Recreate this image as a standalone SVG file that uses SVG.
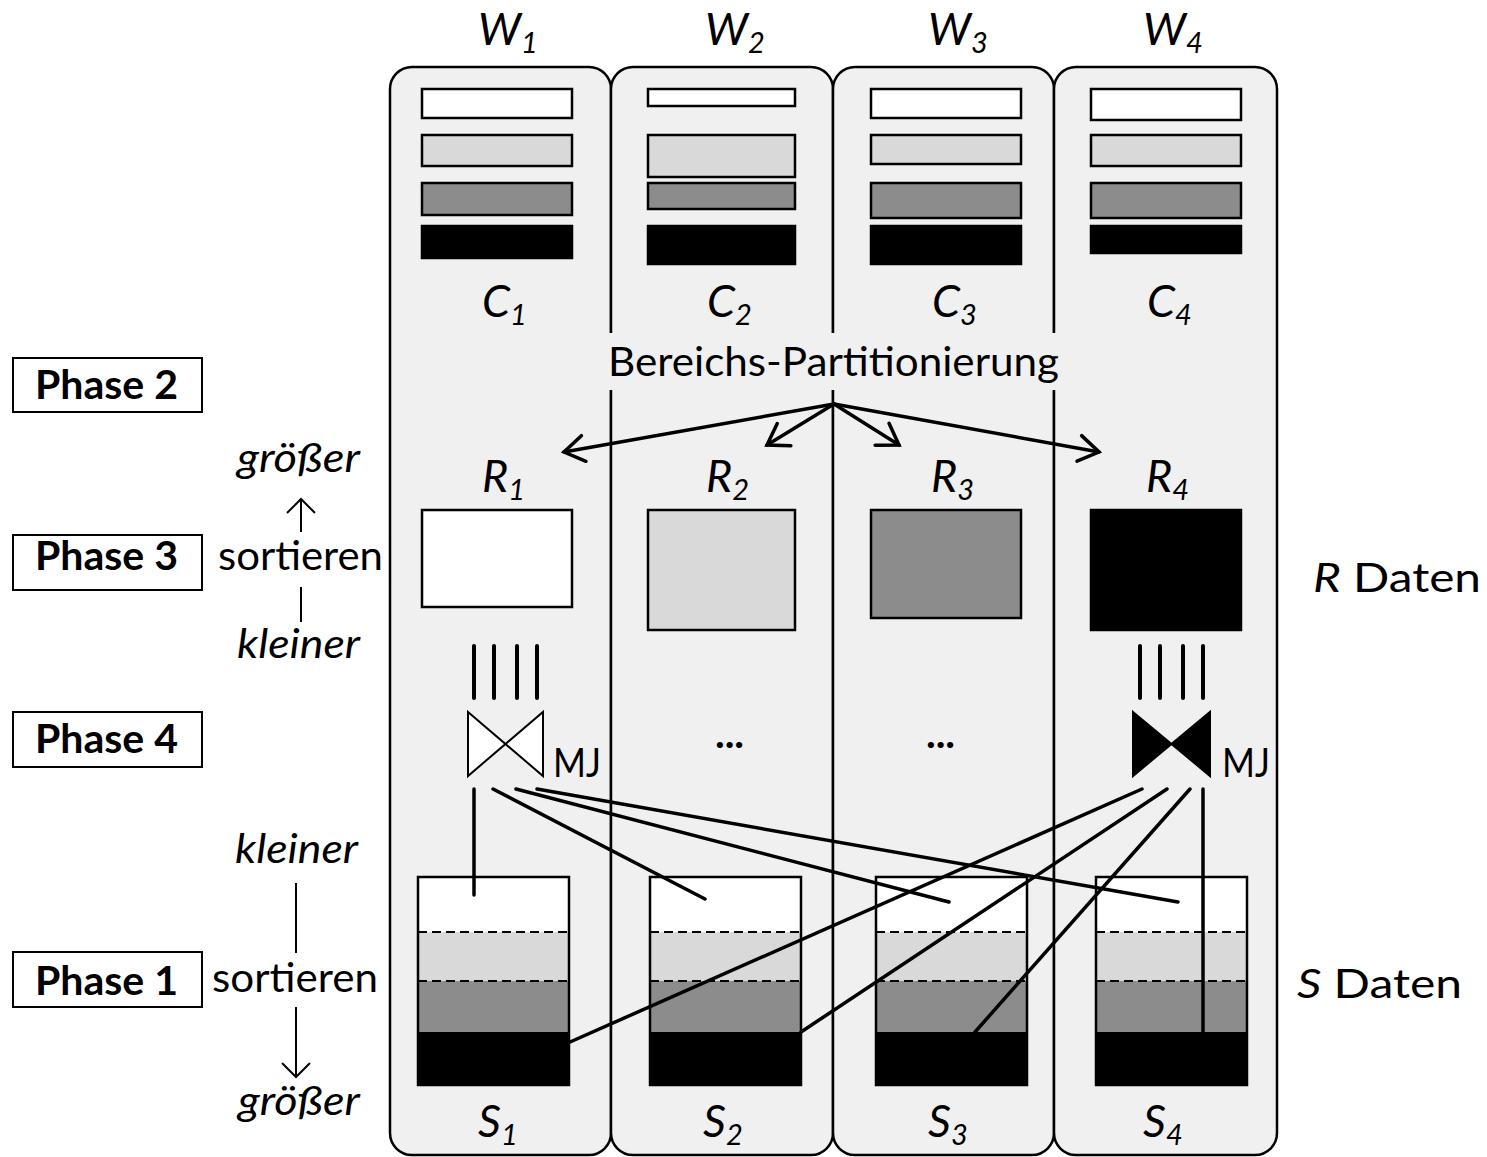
<svg xmlns="http://www.w3.org/2000/svg" width="1487" height="1157" viewBox="0 0 1487 1157">
<defs>
<style>
text{font-family:Lato,'Liberation Sans',sans-serif;fill:#000}
.lbl{font-size:45px;font-style:italic}
.sub{font-size:29px;font-style:italic}
.t{font-size:41px}
.i{font-style:italic}
.b{font-weight:bold}
.panel{fill:#f0f0f0;stroke:#000;stroke-width:2.5}
.bar{stroke:#000;stroke-width:2.5}
.w{fill:#fff}.l{fill:#d9d9d9}.g{fill:#8c8c8c}.k{fill:#000}
.conn{stroke:#000;stroke-width:3.5;fill:none;stroke-linecap:round}
.thin{stroke:#000;stroke-width:2;fill:none}
.dash{stroke:#000;stroke-width:2;stroke-dasharray:9 5}
.pbox{fill:#fff;stroke:#000;stroke-width:2}
.tick{stroke:#000;stroke-width:4;stroke-linecap:round}
</style>
<marker id="chev" markerUnits="userSpaceOnUse" viewBox="-24 -16 28 32" markerWidth="28" markerHeight="32" refX="0" refY="0" orient="auto" overflow="visible">
<path d="M-20,-13 L0,0 L-20,13" fill="none" stroke="#000" stroke-width="3.5" stroke-linecap="round"/>
</marker>
<g id="sbox">
<rect class="w" x="0" y="0" width="151" height="55"/>
<rect class="l" x="0" y="55" width="151" height="49"/>
<rect class="g" x="0" y="104" width="151" height="51"/>
<rect class="k" x="0" y="155" width="151" height="53"/>
<line class="dash" x1="0" y1="55" x2="151" y2="55"/>
<line class="dash" x1="0" y1="104" x2="151" y2="104"/>
<rect x="0" y="0" width="151" height="208" fill="none" stroke="#000" stroke-width="2.5"/>
</g>
</defs>
<rect x="0" y="0" width="1487" height="1157" fill="#fff"/>

<g id="panels">
<g id="W1"><rect class="panel" x="390" y="67" width="221" height="1088" rx="22"/><text class="lbl" x="478" y="45">W<tspan class="sub" dy="8">1</tspan></text></g>
<g id="W2"><rect class="panel" x="611" y="67" width="222" height="1088" rx="22"/><text class="lbl" x="705" y="45">W<tspan class="sub" dy="8">2</tspan></text></g>
<g id="W3"><rect class="panel" x="833" y="67" width="221" height="1088" rx="22"/><text class="lbl" x="928" y="45">W<tspan class="sub" dy="8">3</tspan></text></g>
<g id="W4"><rect class="panel" x="1054" y="67" width="223" height="1088" rx="22"/><text class="lbl" x="1143" y="45">W<tspan class="sub" dy="8">4</tspan></text></g>
</g>

<g id="C1">
<rect class="bar w" x="422" y="89" width="150" height="29"/>
<rect class="bar l" x="422" y="135" width="150" height="31"/>
<rect class="bar g" x="422" y="183" width="150" height="32"/>
<rect class="bar k" x="422" y="226" width="150" height="32"/>
<text class="lbl" x="482" y="317">C<tspan class="sub" dy="8">1</tspan></text>
</g>
<g id="C2">
<rect class="bar w" x="648" y="89" width="147" height="17"/>
<rect class="bar l" x="648" y="135" width="147" height="42"/>
<rect class="bar g" x="648" y="183" width="147" height="26"/>
<rect class="bar k" x="648" y="226" width="147" height="38"/>
<text class="lbl" x="707" y="317">C<tspan class="sub" dy="8">2</tspan></text>
</g>
<g id="C3">
<rect class="bar w" x="871" y="89" width="150" height="29"/>
<rect class="bar l" x="871" y="135" width="150" height="29"/>
<rect class="bar g" x="871" y="183" width="150" height="35"/>
<rect class="bar k" x="871" y="226" width="150" height="38"/>
<text class="lbl" x="932" y="317">C<tspan class="sub" dy="8">3</tspan></text>
</g>
<g id="C4">
<rect class="bar w" x="1091" y="89" width="150" height="31"/>
<rect class="bar l" x="1091" y="135" width="150" height="31"/>
<rect class="bar g" x="1091" y="183" width="150" height="35"/>
<rect class="bar k" x="1091" y="226" width="150" height="27"/>
<text class="lbl" x="1147" y="317">C<tspan class="sub" dy="8">4</tspan></text>
</g>

<g id="partition">
<rect x="598" y="333" width="472" height="57" fill="#f0f0f0"/>
<text class="t" x="608" y="376" textLength="451" lengthAdjust="spacingAndGlyphs">Bereichs-Partitionierung</text>
</g>

<g id="R1"><text class="lbl" x="482" y="492">R<tspan class="sub" dy="8">1</tspan></text><rect class="bar w" x="422" y="510" width="150" height="97"/></g>
<g id="R2"><text class="lbl" x="706" y="492">R<tspan class="sub" dy="8">2</tspan></text><rect class="bar l" x="648" y="510" width="147" height="120"/></g>
<g id="R3"><text class="lbl" x="931" y="492">R<tspan class="sub" dy="8">3</tspan></text><rect class="bar g" x="871" y="510" width="150" height="108"/></g>
<g id="R4"><text class="lbl" x="1146" y="492">R<tspan class="sub" dy="8">4</tspan></text><rect class="bar k" x="1091" y="510" width="150" height="120"/></g>

<g id="MJ1">
<line class="tick" x1="474" y1="646" x2="474" y2="698"/>
<line class="tick" x1="494" y1="646" x2="494" y2="698"/>
<line class="tick" x1="517" y1="646" x2="517" y2="698"/>
<line class="tick" x1="537" y1="646" x2="537" y2="698"/>
<polygon points="468,712 543,776 543,712 468,776" fill="#fff" stroke="#000" stroke-width="2"/>
<text class="t" x="553" y="777" textLength="48" lengthAdjust="spacingAndGlyphs">MJ</text>
</g>
<g id="MJ4">
<line class="tick" x1="1140" y1="646" x2="1140" y2="698"/>
<line class="tick" x1="1160" y1="646" x2="1160" y2="698"/>
<line class="tick" x1="1183" y1="646" x2="1183" y2="698"/>
<line class="tick" x1="1203" y1="646" x2="1203" y2="698"/>
<polygon points="1133,712 1210,776 1210,712 1133,776" fill="#000" stroke="#000" stroke-width="2"/>
<text class="t" x="1222" y="777" textLength="48" lengthAdjust="spacingAndGlyphs">MJ</text>
</g>
<g id="dots2"><text class="t b" x="729.5" y="748" text-anchor="middle">...</text></g>
<g id="dots3"><text class="t b" x="940.5" y="748" text-anchor="middle">...</text></g>

<g id="S1"><use href="#sbox" x="418" y="877"/><text class="lbl" x="478" y="1137">S<tspan class="sub" dy="8">1</tspan></text></g>
<g id="S2"><use href="#sbox" x="650" y="877"/><text class="lbl" x="703" y="1137">S<tspan class="sub" dy="8">2</tspan></text></g>
<g id="S3"><use href="#sbox" x="876" y="877"/><text class="lbl" x="928" y="1137">S<tspan class="sub" dy="8">3</tspan></text></g>
<g id="S4"><use href="#sbox" x="1096" y="877"/><text class="lbl" x="1143" y="1137">S<tspan class="sub" dy="8">4</tspan></text></g>

<g id="connectors">
<line class="conn" x1="834" y1="404" x2="564" y2="452" marker-end="url(#chev)"/>
<line class="conn" x1="834" y1="404" x2="767" y2="445" marker-end="url(#chev)"/>
<line class="conn" x1="834" y1="404" x2="899" y2="445" marker-end="url(#chev)"/>
<line class="conn" x1="834" y1="404" x2="1099" y2="452" marker-end="url(#chev)"/>
<line class="conn" x1="474" y1="789" x2="474" y2="895"/>
<line class="conn" x1="493" y1="789" x2="705" y2="899"/>
<line class="conn" x1="516" y1="789" x2="949" y2="902"/>
<line class="conn" x1="537" y1="789" x2="1178" y2="902"/>
<line class="conn" x1="1142" y1="789" x2="570" y2="1042"/>
<line class="conn" x1="1167" y1="789" x2="801" y2="1032"/>
<line class="conn" x1="1190" y1="789" x2="975" y2="1032"/>
<line class="conn" x1="1203" y1="789" x2="1203" y2="1032"/>
</g>

<g id="phase2"><rect class="pbox" x="13" y="358" width="189" height="54"/><text class="t b" x="35" y="399" textLength="143" lengthAdjust="spacingAndGlyphs">Phase 2</text></g>
<g id="phase3"><rect class="pbox" x="13" y="535" width="189" height="55"/><text class="t b" x="35" y="570" textLength="143" lengthAdjust="spacingAndGlyphs">Phase 3</text></g>
<g id="phase4"><rect class="pbox" x="13" y="712" width="189" height="55"/><text class="t b" x="35" y="753" textLength="143" lengthAdjust="spacingAndGlyphs">Phase 4</text></g>
<g id="phase1"><rect class="pbox" x="13" y="952" width="189" height="55"/><text class="t b" x="35" y="995" textLength="143" lengthAdjust="spacingAndGlyphs">Phase 1</text></g>

<g id="sortR">
<text class="t i" x="237" y="472" textLength="123" lengthAdjust="spacingAndGlyphs">größer</text>
<line class="thin" x1="301" y1="532" x2="301" y2="500"/>
<path class="thin" d="M287,513 L301,499 L315,513"/>
<text class="t" x="218" y="570" textLength="165" lengthAdjust="spacingAndGlyphs">sortieren</text>
<line class="thin" x1="301" y1="587" x2="301" y2="622"/>
<text class="t i" x="237" y="658" textLength="123" lengthAdjust="spacingAndGlyphs">kleiner</text>
</g>
<g id="sortS">
<text class="t i" x="235" y="863" textLength="123" lengthAdjust="spacingAndGlyphs">kleiner</text>
<line class="thin" x1="296" y1="883" x2="296" y2="953"/>
<text class="t" x="212" y="992" textLength="166" lengthAdjust="spacingAndGlyphs">sortieren</text>
<line class="thin" x1="296" y1="1007" x2="296" y2="1077"/>
<path class="thin" d="M282,1063 L296,1077 L310,1063"/>
<text class="t i" x="238" y="1115" textLength="122" lengthAdjust="spacingAndGlyphs">größer</text>
</g>

<g id="rdaten"><text class="t" x="1313" y="592" textLength="168" lengthAdjust="spacingAndGlyphs"><tspan class="i">R</tspan> Daten</text></g>
<g id="sdaten"><text class="t" x="1297" y="998" textLength="165" lengthAdjust="spacingAndGlyphs"><tspan class="i">S</tspan> Daten</text></g>
</svg>
